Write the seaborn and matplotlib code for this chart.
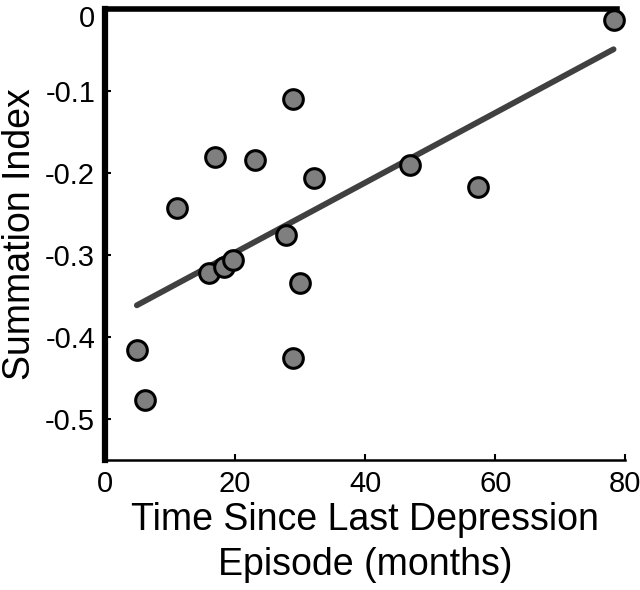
import numpy as np
import pandas as pd
import matplotlib
matplotlib.use("Agg")
import matplotlib.pyplot as plt
import matplotlib.transforms as mtransforms
import seaborn as sns

# values
months = [4.9, 6.2, 28.9, 11.0, 16.9, 23.1, 28.9, 32.1, 27.8, 30.0, 16.0, 18.3, 19.7, 46.9, 57.4, 78.2]
summation = [-0.416, -0.477, -0.426, -0.243, -0.180, -0.184, -0.110, -0.206,
             -0.276, -0.334, -0.322, -0.314, -0.306, -0.190, -0.217, -0.013]
x_ticks = [0, 20, 40, 60, 80]
y_ticks = [0, -0.1, -0.2, -0.3, -0.4, -0.5]
y_tick_labels = ["0", "-0.1", "-0.2", "-0.3", "-0.4", "-0.5"]

df = pd.DataFrame({"months": months, "summation": summation})

sns.set_theme(style="white")
plt.rcParams["font.family"] = ["Liberation Sans", "DejaVu Sans"]

fig = plt.figure(figsize=(6.4, 5.9), dpi=100)
ax = fig.add_axes([0.164, 0.220, 0.813, 0.765])

sns.regplot(data=df, x="months", y="summation", ax=ax, ci=None,
            scatter_kws={"s": 200, "color": "#7f7f7f", "edgecolor": "black",
                         "linewidths": 2.2, "alpha": 1, "clip_on": False, "zorder": 3},
            line_kws={"color": "#404040", "linewidth": 4.2, "zorder": 2})

ax.set_xlim(0, 80)
ax.set_ylim(-0.55, 0)
ax.set_xticks(x_ticks)
ax.set_yticks(y_ticks)
ax.set_yticklabels(y_tick_labels)
ax.tick_params(axis="both", direction="in", length=4, width=1.5, colors="black",
               labelsize=21, pad=7, bottom=True, left=True)

# the top "0" label sits a little lower so it stays inside the figure
top_lbl = ax.get_yticklabels()[0]
top_lbl.set_transform(top_lbl.get_transform() +
                      mtransforms.ScaledTranslation(0, -5 / 72, fig.dpi_scale_trans))

ax.spines["right"].set_visible(False)
ax.spines["left"].set_linewidth(4.5)
ax.spines["top"].set_linewidth(4)
ax.spines["top"].set_bounds(0, 78.8)
ax.spines["bottom"].set_linewidth(1.8)
for s in ["left", "top", "bottom"]:
    ax.spines[s].set_color("black")

ax.set_xlabel("Time Since Last Depression\nEpisode (months)", fontsize=27,
              color="black", linespacing=1.32, labelpad=3)
ax.set_ylabel("Summation Index", fontsize=27, color="black", labelpad=5)

fig.savefig("out.png", dpi=100)
